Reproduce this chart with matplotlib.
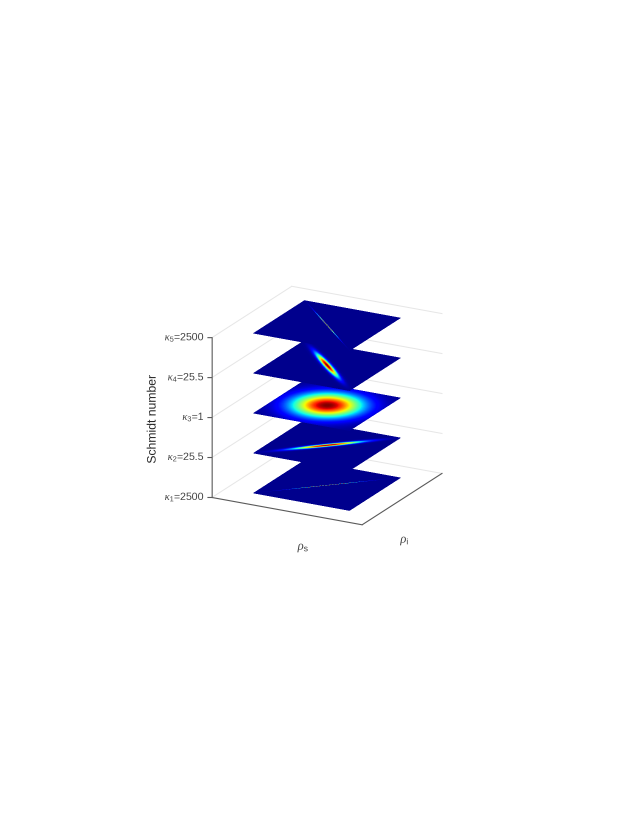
import numpy as np
import matplotlib
matplotlib.use('Agg')
import matplotlib.pyplot as plt
from mpl_toolkits.mplot3d import proj3d

plt.rcParams['font.family'] = ['Liberation Sans', 'DejaVu Sans']
plt.rcParams['mathtext.fontset'] = 'custom'
plt.rcParams['mathtext.rm'] = 'Liberation Sans'
plt.rcParams['mathtext.it'] = 'Liberation Serif:italic'

# one row per slice, bottom to top
levels = [1, 2, 3, 4, 5]
tick_labels = [r'$\kappa_1$=2500', r'$\kappa_2$=25.5', r'$\kappa_3$=1',
               r'$\kappa_4$=25.5', r'$\kappa_5$=2500']
# gaussian widths, along rho_s+rho_i and rho_s-rho_i
sig_sum = [0.40, 0.42, 0.42, 0.042, 0.005]
sig_diff = [0.005, 0.042, 0.42, 0.42, 0.40]

W = 638.
H = 825.
fig = plt.figure(figsize=(W/100, H/100), dpi=100)
S = 286.
ax = fig.add_axes([180.1/W, 272.6/H, S/W, S/H], projection='3d',
                  proj_type='ortho', computed_zorder=False)
ax.view_init(elev=20, azim=-62)
ax.set_box_aspect((1, 1, 1))
ax.set_xlim(-1.5, 1.5)
ax.set_ylim(-1.5, 1.5)
ax.set_zlim(1, 5)
ax.set_axis_off()

grid_c = '#e6e6e6'
axis_c = '#5a5a5a'
for z in levels:
    ax.plot([-1.5, -1.5], [-1.5, 1.5], [z, z], color=grid_c, lw=0.7, zorder=1)
    ax.plot([-1.5, 1.5], [1.5, 1.5], [z, z], color=grid_c, lw=0.7, zorder=1)
ax.plot([-1.5, 1.5], [-1.5, -1.5], [1, 1], color=axis_c, lw=0.8, zorder=2)
ax.plot([1.5, 1.5], [-1.5, 1.5], [1, 1], color=axis_c, lw=0.8, zorder=2)
ax.plot([-1.5, -1.5], [-1.5, -1.5], [1, 5], color=axis_c, lw=0.8, zorder=2)

rho = np.linspace(-0.96, 0.96, 241)
xx, yy = np.meshgrid(rho, rho)
d1 = (xx + yy)/np.sqrt(2)
d2 = (xx - yy)/np.sqrt(2)
proj = ax.get_proj()
for i, z in enumerate(levels):
    val = np.exp(-d1**2/(2*sig_sum[i]**2) - d2**2/(2*sig_diff[i]**2))
    # lowest colour a bit brighter than jet(0), as in the original
    cols = plt.cm.jet(0.015 + 0.985*val)
    ax.plot_surface(xx, yy, np.full_like(xx, z), facecolors=cols,
                    rstride=1, cstride=1, shade=False, linewidth=0,
                    antialiased=False, zorder=10+i)
    ax.plot([-1.5, -1.562], [-1.5, -1.533], [z, z], color=axis_c, lw=0.8, zorder=2)
    x2, y2, _ = proj3d.proj_transform(-1.5, -1.5, z, proj)
    ax.annotate(tick_labels[i], (x2, y2), xytext=(-6, 0), textcoords='offset points',
                ha='right', va='center', fontsize=7.6, color='#404040',
                annotation_clip=False)

fig.text(153/W, 1 - 419/H, 'Schmidt number', rotation=90, ha='center', va='center',
         fontsize=8.8, color='#262626')
fig.text(303/W, 1 - 547/H, r'$\rho_{\mathrm{s}}$', ha='center', va='center',
         fontsize=9, color='#404040')
fig.text(404/W, 1 - 540/H, r'$\rho_{\mathrm{i}}$', ha='center', va='center',
         fontsize=9, color='#404040')

# draw at 3x and average down, the thin ridges come out faint like the original
fig.savefig('big.png', dpi=300)
big = plt.imread('big.png')[:, :, :3]
h, w = big.shape[0]//3, big.shape[1]//3
small = big[:h*3, :w*3].reshape(h, 3, w, 3, 3).mean(axis=(1, 3))
plt.imsave('out.png', small)
